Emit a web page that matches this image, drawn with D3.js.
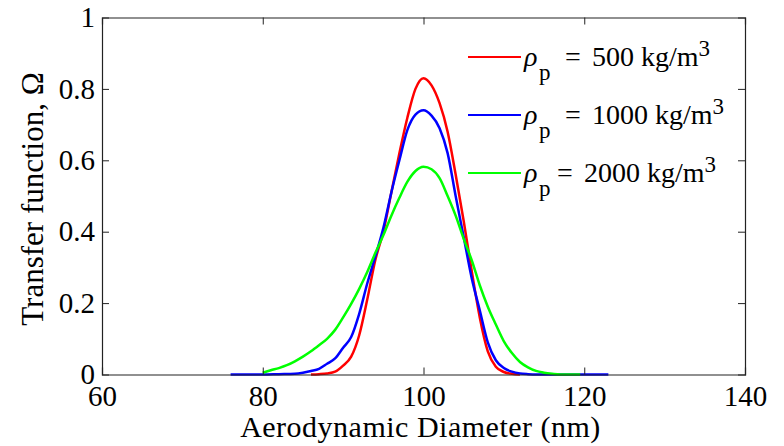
<!DOCTYPE html>
<html>
<head>
<meta charset="utf-8">
<script src="https://cdn.jsdelivr.net/npm/d3@7"></script>
</head>
<body style="margin:0;background:#fff">
<svg id="chart" width="784" height="446" style="display:block"></svg>
<script>
// Transfer function versus aerodynamic diameter for three particle densities
const diam500 = [86, 87, 88, 89, 90, 91, 92, 93, 94, 95, 96, 97, 98, 99, 100, 101, 102, 103, 104, 105, 106, 107, 108, 109, 110, 111, 112];
const omega500 = [0, 0.001, 0.003, 0.008, 0.025, 0.05, 0.11, 0.21, 0.32, 0.40, 0.51, 0.62, 0.72, 0.80, 0.83, 0.81, 0.76, 0.68, 0.56, 0.43, 0.29, 0.16, 0.065, 0.022, 0.007, 0.002, 0];

const diam1000 = [76, 78, 80, 82, 84, 85, 86, 87, 88, 89, 90, 91, 92, 93, 94, 95, 96, 97, 98, 99, 100, 101, 102, 103, 104, 105, 106, 107, 108, 109, 110, 111, 112, 113, 114, 116, 118, 120, 123];
const omega1000 = [0, 0, 0, 0.001, 0.002, 0.005, 0.01, 0.016, 0.03, 0.045, 0.075, 0.105, 0.17, 0.255, 0.33, 0.41, 0.51, 0.60, 0.685, 0.728, 0.74, 0.725, 0.69, 0.62, 0.50, 0.385, 0.27, 0.18, 0.09, 0.04, 0.018, 0.008, 0.003, 0.001, 0, 0, 0, 0, 0];

const diam2000 = [80, 81, 82, 83, 84, 85, 86, 87, 88, 89, 90, 91, 92, 93, 94, 95, 96, 97, 98, 99, 100, 101, 102, 103, 104, 105, 106, 107, 108, 109, 110, 111, 112, 113, 114, 115, 116, 117, 118, 119.5];
const omega2000 = [0.005, 0.012, 0.018, 0.026, 0.037, 0.05, 0.065, 0.082, 0.10, 0.125, 0.16, 0.198, 0.24, 0.287, 0.34, 0.39, 0.445, 0.495, 0.54, 0.57, 0.582, 0.575, 0.55, 0.50, 0.445, 0.38, 0.32, 0.25, 0.19, 0.14, 0.093, 0.06, 0.035, 0.02, 0.01, 0.005, 0.002, 0, 0, 0];

const seriesNames = ["500", "1000", "2000"];
const seriesColors = ["#ff0000", "#0000ff", "#00ff00"];
const xTicks = [60, 80, 100, 120, 140];
const yTicks = [0, 0.2, 0.4, 0.6, 0.8, 1];
const xTitle = "Aerodynamic Diameter (nm)";
const yTitle = "Transfer function, Ω";

const series = [
  { name: seriesNames[0], color: seriesColors[0], xs: diam500, ys: omega500 },
  { name: seriesNames[1], color: seriesColors[1], xs: diam1000, ys: omega1000 },
  { name: seriesNames[2], color: seriesColors[2], xs: diam2000, ys: omega2000 }
];

const FONT = "'Liberation Serif', 'Times New Roman', serif";
const svg = d3.select("#chart");
const plotLeft = 102, plotRight = 745, plotTop = 17.5, plotBottom = 374.5;

const x = d3.scaleLinear().domain([60, 140]).range([plotLeft, plotRight]);
const y = d3.scaleLinear().domain([0, 1]).range([plotBottom, plotTop]);

// curves
const line = d3.line()
  .x(d => x(d[0]))
  .y(d => y(d[1]))
  .curve(d3.curveMonotoneX);

svg.append("g").selectAll("path")
  .data(series)
  .join("path")
  .attr("d", s => line(s.xs.map((v, i) => [v, s.ys[i]])))
  .attr("fill", "none")
  .attr("stroke", s => s.color)
  .attr("stroke-width", 2.5)
  .attr("stroke-linejoin", "round");

// box with inward ticks on all four sides
const axisColor = "#222";
const tickLen = 7;
const tickFont = 29;

const bottomAxis = svg.append("g")
  .attr("transform", `translate(0,${plotBottom})`)
  .call(d3.axisBottom(x).tickValues(xTicks).tickSize(-tickLen).tickPadding(11).tickFormat(d3.format("d")));
const topAxis = svg.append("g")
  .attr("transform", `translate(0,${plotTop})`)
  .call(d3.axisTop(x).tickValues(xTicks).tickSize(-tickLen).tickFormat(""));
const leftAxis = svg.append("g")
  .attr("transform", `translate(${plotLeft},0)`)
  .call(d3.axisLeft(y).tickValues(yTicks).tickSize(-tickLen).tickPadding(7)
    .tickFormat(d => (d === 0 || d === 1) ? d3.format("d")(d) : d3.format(".1f")(d)));
const rightAxis = svg.append("g")
  .attr("transform", `translate(${plotRight},0)`)
  .call(d3.axisRight(y).tickValues(yTicks).tickSize(-tickLen).tickFormat(""));

[bottomAxis, topAxis, leftAxis, rightAxis].forEach(g => {
  g.attr("font-family", FONT).attr("font-size", tickFont);
  g.select(".domain").attr("stroke", axisColor).attr("stroke-width", 1.2);
  g.selectAll(".tick line").attr("stroke", axisColor).attr("stroke-width", 1);
  g.selectAll(".tick text")
    .style("font-family", FONT)
    .style("font-size", tickFont + "px")
    .attr("fill", "#000");
});
// end ticks coincide with the box corners
bottomAxis.selectAll(".tick line").filter(d => d === 60 || d === 140).remove();
topAxis.selectAll(".tick line").filter(d => d === 60 || d === 140).remove();
leftAxis.selectAll(".tick line").filter(d => d === 0 || d === 1).remove();
rightAxis.selectAll(".tick line").filter(d => d === 0 || d === 1).remove();

// axis titles
svg.append("text")
  .attr("x", 420.5)
  .attr("y", 436.5)
  .attr("text-anchor", "middle")
  .style("font-family", FONT)
  .style("font-size", "30px")
  .style("letter-spacing", "0.5px")
  .attr("fill", "#000")
  .text(xTitle);

svg.append("text")
  .attr("transform", "translate(43,199) rotate(-90)")
  .attr("text-anchor", "middle")
  .style("font-family", FONT)
  .style("font-size", "31px")
  .attr("fill", "#000")
  .text(yTitle);

// legend
const legend = svg.append("g");
const rowY = [57, 115, 173];
const eqX = [565, 565, 557];
series.forEach((s, i) => {
  const g = legend.append("g").attr("transform", `translate(0,${rowY[i]})`);
  g.append("line")
    .attr("x1", 468).attr("x2", 521)
    .attr("y1", 0).attr("y2", 0)
    .attr("stroke", s.color).attr("stroke-width", 2);
  const t = g.append("text").attr("x", 524).attr("y", 9)
    .style("font-family", FONT).style("font-size", "28px").attr("fill", "#000");
  t.append("tspan").style("font-style", "italic").text("ρ");
  t.append("tspan").attr("x", 539).attr("dy", 14).style("font-size", "23px").text("p");
  t.append("tspan").attr("x", eqX[i]).attr("dy", -14).text("=");
  t.append("tspan").attr("x", eqX[i] + 27).text(s.name + " kg/m");
  t.append("tspan").attr("dy", -10).style("font-size", "23px").text("3");
});
</script>
</body>
</html>
